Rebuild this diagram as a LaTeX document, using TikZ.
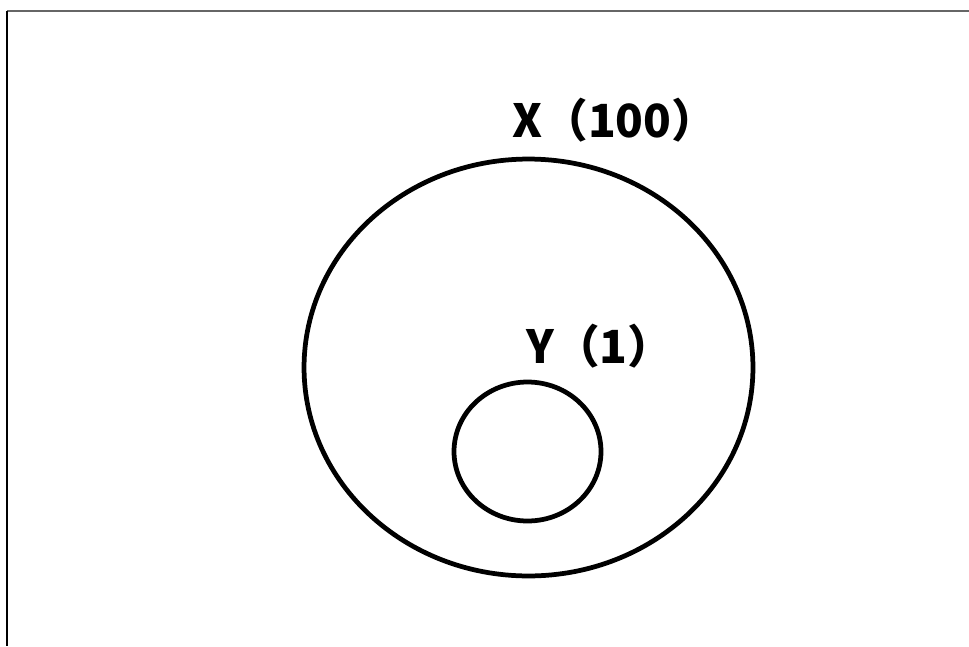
\documentclass[tikz,border=0pt]{standalone}
\usepackage{fontspec}
\newfontfamily\cjk{Noto Sans CJK JP}
\usetikzlibrary{shapes.geometric}
\begin{document}
\begin{tikzpicture}[x=0.02cm,y=-0.02cm,
  ring/.style={draw, ellipse, line width=0.095cm, inner sep=0, outer sep=0},
  setlabel/.style={anchor=base west, inner sep=0, font=\cjk\bfseries\fontsize{26}{30}\selectfont}]
\useasboundingbox (0,0) rectangle (969,646);
\draw[line width=0.04cm, black!60] (969,11) -- (7,11);
\draw[line width=0.04cm] (7,11) -- (7,646);

\node[ring, minimum width=8.98cm, minimum height=8.34cm] (outer) at (528.5,367.5) {};
\node[ring, minimum width=2.94cm, minimum height=2.78cm] (inner) at (527.5,451.5) {};

\node[setlabel] (xlabel) at (512,137) {X（100）};
\node[setlabel] (ylabel) at (526,363) {Y（1）};
\end{tikzpicture}
\end{document}
